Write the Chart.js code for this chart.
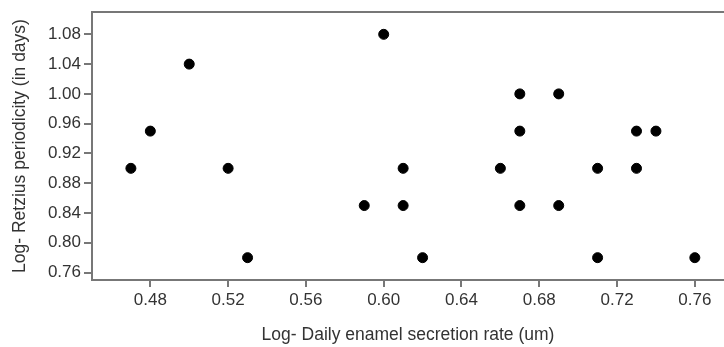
<!DOCTYPE html>
<html>
<head>
<meta charset="utf-8">
<script src="https://cdn.jsdelivr.net/npm/chart.js@4.4.1/dist/chart.umd.min.js"></script>
<style>
  html, body { margin: 0; padding: 0; background: #fff; }
  #wrap { width: 724px; height: 347px; }
</style>
</head>
<body>
<div id="wrap"><canvas id="myChart"></canvas></div>
<script>
// Log- Daily enamel secretion rate vs Log- Retzius periodicity
const secretionRate = [0.47, 0.48, 0.50, 0.52, 0.53, 0.59, 0.60, 0.61, 0.61, 0.62, 0.66,
  0.67, 0.67, 0.67, 0.69, 0.69, 0.71, 0.71, 0.73, 0.73, 0.74, 0.76];
const periodicity = [0.90, 0.95, 1.04, 0.90, 0.78, 0.85, 1.08, 0.90, 0.85, 0.78, 0.90,
  1.00, 0.95, 0.85, 1.00, 0.85, 0.90, 0.78, 0.95, 0.90, 0.95, 0.78];
const xTicks = [0.48, 0.52, 0.56, 0.60, 0.64, 0.68, 0.72, 0.76];
const yTicks = [0.76, 0.80, 0.84, 0.88, 0.92, 0.96, 1.00, 1.04, 1.08];

const points = secretionRate.map((x, i) => ({ x: x, y: periodicity[i] }));

const axisGray = '#777';
const textGray = '#333';
const font = { family: 'Liberation Sans, Arial, sans-serif', size: 17 };
const titleFont = { family: 'Liberation Sans, Arial, sans-serif', size: 17.5 };

// top frame line
const topLine = {
  id: 'topLine',
  afterDraw(chart) {
    const { ctx, chartArea } = chart;
    ctx.save();
    ctx.strokeStyle = axisGray;
    ctx.lineWidth = 2;
    ctx.beginPath();
    ctx.moveTo(chartArea.left - 1, chartArea.top);
    ctx.lineTo(chart.width, chartArea.top);
    ctx.stroke();
    ctx.restore();
  }
};

const ctx = document.getElementById('myChart').getContext('2d');

const chart = new Chart(ctx, {
  type: 'scatter',
  data: {
    datasets: [{
      data: points,
      backgroundColor: '#000',
      borderColor: '#000',
      pointRadius: 5,
      pointHoverRadius: 5
    }]
  },
  options: {
    responsive: true,
    maintainAspectRatio: false,
    animation: false,
    layout: { autoPadding: false, padding: { top: 12, right: 0, left: 0, bottom: 0 } },
    plugins: { legend: { display: false }, tooltip: { enabled: false } },
    scales: {
      x: {
        type: 'linear',
        min: 0.45,
        max: 0.775,
        afterBuildTicks: s => { s.ticks = xTicks.map(v => ({ value: v })); },
        afterFit: s => { s.height = 67; s.paddingLeft = 0; s.paddingRight = 0; },
        border: { color: axisGray, width: 2 },
        grid: { drawOnChartArea: false, drawTicks: true, tickLength: 7, color: axisGray, lineWidth: 2 },
        ticks: { color: textGray, font: font, padding: 3, maxRotation: 0, callback: v => v.toFixed(2) },
        title: { display: true, text: 'Log- Daily enamel secretion rate (um)', color: textGray, font: titleFont, padding: { top: 0, bottom: 1 } }
      },
      y: {
        type: 'linear',
        min: 0.75,
        max: 1.11,
        afterBuildTicks: s => { s.ticks = yTicks.map(v => ({ value: v })); },
        afterFit: s => { s.width = 92; s.paddingTop = 0; s.paddingBottom = 0; },
        border: { color: axisGray, width: 2 },
        grid: { drawOnChartArea: false, drawTicks: true, tickLength: 8, color: axisGray, lineWidth: 2 },
        ticks: { color: textGray, font: font, padding: 3, callback: v => v.toFixed(2) },
        title: { display: true, text: 'Log- Retzius periodicity (in days)', color: textGray, font: titleFont, padding: { top: 10, bottom: 0 } }
      }
    }
  },
  plugins: [topLine]
});
</script>
</body>
</html>
